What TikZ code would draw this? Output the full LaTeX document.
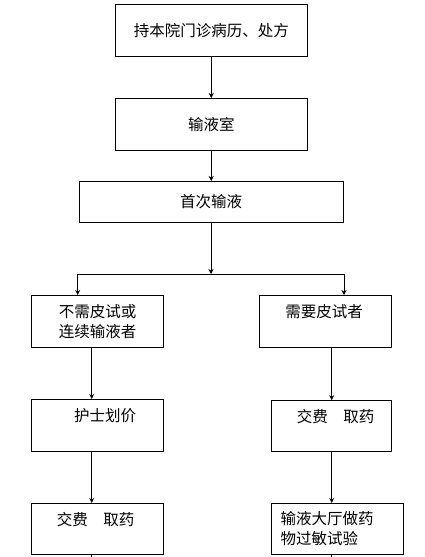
\documentclass[tikz,border=0pt]{standalone}
\usepackage{fontspec}
\newfontfamily\cjk{Noto Sans CJK SC}
\usetikzlibrary{arrows.meta, positioning}

\begin{document}
\begin{tikzpicture}[
    x=1pt, y=-1pt,
    every node/.style={font=\cjk\fontsize{15.5}{20}\selectfont},
    stepbox/.style={rectangle, draw=black, line width=1pt, align=center, inner sep=0pt},
    toptext/.style={text height=12pt, text depth=20pt},
    arrow/.style={-{Stealth[length=5pt, width=5pt]}, line width=1pt},
    link/.style={line width=1pt, line cap=rect}
  ]
  \useasboundingbox (0,0) rectangle (425,557);

  % Nodes
  \node[stepbox, minimum width=191.5pt, minimum height=51.5pt] (record) at (211.25,30.25) {持本院门诊病历、处方};
  \node[stepbox, minimum width=191.5pt, minimum height=51.5pt] (room) at (211.25,124.25) {输液室};
  \node[stepbox, minimum width=264pt, minimum height=40.5pt] (first) at (211,201.75) {首次输液};

  \node[stepbox, minimum width=132pt, minimum height=52pt] (noTest) at (97.5,321.5) {不需皮试或\\连续输液者};
  \node[stepbox, toptext, minimum width=132pt, minimum height=52pt] (needTest) at (325.5,321.5) {需要皮试者\kern3pt};

  \node[stepbox, toptext, minimum width=132pt, minimum height=52pt] (price) at (97.5,425.5) {\kern15pt 护士划价};
  \node[stepbox, toptext, minimum width=120pt, minimum height=51pt] (payR) at (331.7,426.2) {\kern8pt 交费　取药};

  \node[stepbox, toptext, minimum width=132pt, minimum height=51pt] (payL) at (97.5,529) {交费　取药\kern4pt};
  \node[stepbox, align=left, text width=114.3pt, inner xsep=9pt, minimum height=51pt] (allergy) at (337.8,529) {输液大厅做药\\物过敏试验};

  % Branch points
  \coordinate (split) at (211,274);
  \coordinate (splitL) at (77.7,274);
  \coordinate (splitR) at (344,274);
  \coordinate (leftline) at (91.7,557);
  \coordinate (rightline) at (331.7,557);

  % Arrows
  \draw[arrow] (record.south) -- (room.north);
  \draw[arrow] (room.south) -- (room.south |- first.north);
  \draw[arrow] (first.south) -- (split);
  \draw[link] (splitL) -- (splitR);
  \draw[arrow] (splitL) -- (splitL |- noTest.north);
  \draw[arrow] (splitR) -- (splitR |- needTest.north);

  \draw[arrow] (noTest.south -| leftline) -- (price.north -| leftline);
  \draw[arrow] (price.south -| leftline) -- (payL.north -| leftline);
  \draw[link] (payL.south -| leftline) -- (leftline);

  \draw[arrow] (needTest.south -| rightline) -- (payR.north -| rightline);
  \draw[arrow] (payR.south -| rightline) -- (allergy.north -| rightline);
  \draw[link] (allergy.south -| rightline) -- (rightline);

\end{tikzpicture}
\end{document}
